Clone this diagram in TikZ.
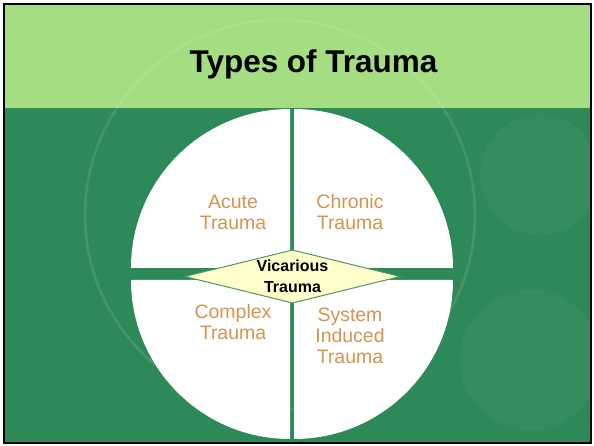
\documentclass[tikz,border=0pt]{standalone}
\usepackage{fontspec}
\setmainfont{Liberation Sans}
\usepackage{xcolor}
\usepackage{tikz}
\usetikzlibrary{shapes.geometric}

\definecolor{bandgreen}{RGB}{164,221,130}
\definecolor{slidegreen}{RGB}{46,137,88}
\definecolor{labelorange}{RGB}{214,148,80}
\definecolor{paleyellow}{RGB}{255,255,204}
\definecolor{edgegreen}{RGB}{78,150,100}

\begin{document}
\begin{tikzpicture}[x=0.75pt, y=0.75pt,
    quadrant/.style={fill=white},
    typelabel/.style={text=labelorange, font=\fontsize{14.6}{15.75}\selectfont, align=center},
    centerbox/.style={diamond, draw=edgegreen, fill=paleyellow, line width=0.75pt, inner sep=0pt, aspect=4, minimum width=162pt, minimum height=40pt},
    centerlabel/.style={font=\bfseries\fontsize{12}{15.75}\selectfont, align=center}
]
    \useasboundingbox (0,0) rectangle (594,446);

    % Slide background
    \fill[black] (3,2) rectangle (592,443);
    \fill[slidegreen] (5,4) rectangle (590,338);
    \fill[bandgreen] (5,338) rectangle (590,441);
    \begin{scope}
        \clip (5,4) rectangle (590,441);
        \draw[white, opacity=0.1, line width=2pt] (280,231) circle[radius=195];
        \fill[white, opacity=0.035] (540,271) circle[radius=60];
        \fill[white, opacity=0.035] (530,86) circle[radius=70];
    \end{scope}

    % Title
    \node[font=\bfseries\fontsize{23.6}{28}\selectfont, anchor=base] (title) at (313.5,373) {Types of Trauma};

    % Quadrants
    \fill[quadrant] (290,178) -- (131,178) arc[start angle=180, end angle=90, radius=159] -- cycle;
    \fill[quadrant] (294,178) -- (294,337) arc[start angle=90, end angle=0, radius=159] -- cycle;
    \fill[quadrant] (290,166) -- (131,166) arc[start angle=180, end angle=270, radius=159] -- cycle;
    \fill[quadrant] (294,166) -- (453,166) arc[start angle=0, end angle=-90, radius=159] -- cycle;

    % Labels
    \node[typelabel] (acute) at (233,233.5) {Acute\\Trauma};
    \node[typelabel] (chronic) at (350,233.5) {Chronic\\Trauma};
    \node[typelabel] (complex) at (233,124) {Complex\\Trauma};
    \node[typelabel] (system) at (350,110) {System\\Induced\\Trauma};

    % Center
    \node[centerbox] (vicbox) at (292.5,169.5) {};
    \node[centerlabel] (vicarious) at (vicbox.center) {Vicarious\\Trauma};
\end{tikzpicture}
\end{document}
